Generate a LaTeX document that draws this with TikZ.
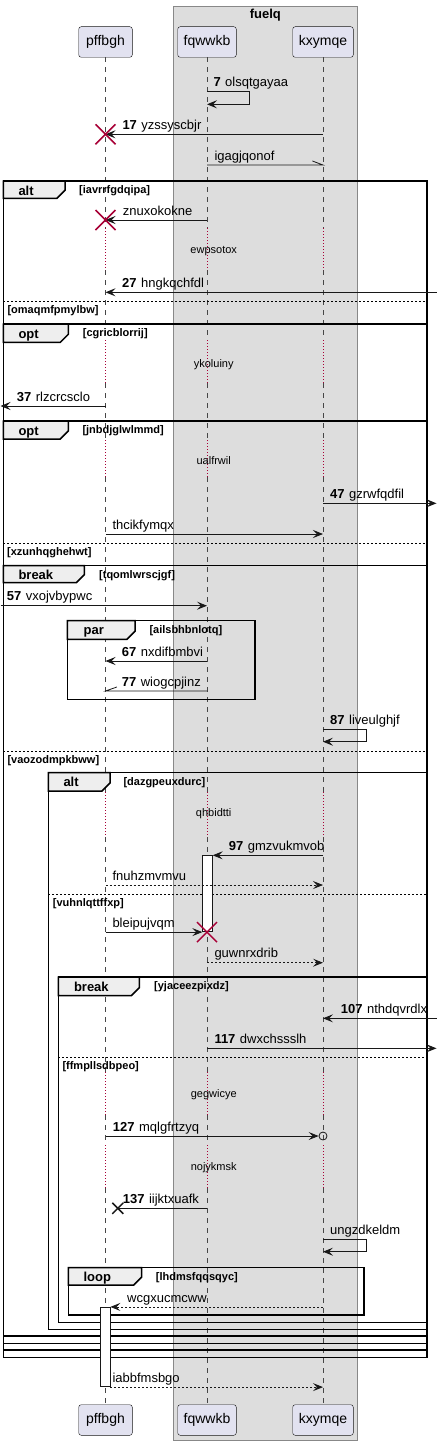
\documentclass[tikz,border=0pt]{standalone}
\usepackage{fontspec}
\setmainfont{Liberation Sans}
\usetikzlibrary{arrows.meta}
\definecolor{lnclr}{HTML}{181818}
\definecolor{partfill}{HTML}{E2E2F0}
\definecolor{boxfill}{HTML}{DDDDDD}
\definecolor{boxline}{HTML}{888888}
\definecolor{tabfill}{HTML}{EEEEEE}
\definecolor{delayred}{HTML}{A80036}
\newcommand\msgno[1]{\textbf{#1}\hspace{4.5pt}}

\begin{document}
\begin{tikzpicture}[x=1pt,y=-1pt,
  part/.style={draw=lnclr,fill=partfill,rounded corners=2.5pt,minimum height=30.6pt,inner sep=0pt,font=\fontsize{14}{16}\selectfont},
  life/.style={draw=lnclr!80,dash pattern=on 5pt off 5pt,line width=0.5pt},
  delay/.style={draw=delayred,dash pattern=on 1pt off 2pt,line width=0.8pt},
  msg/.style={draw=lnclr,line width=0.8pt,-{Stealth[length=10pt,width=8pt,inset=4pt]}},
  reply/.style={msg,dash pattern=on 2pt off 2pt},
  half/.style={draw=lnclr,line width=0.8pt},
  lbl/.style={anchor=base west,inner sep=0pt,font=\fontsize{13}{15}\selectfont},
  dlbl/.style={anchor=base,inner sep=0pt,font=\fontsize{11}{13}\selectfont},
  grd/.style={anchor=base west,inner sep=0pt,font=\bfseries\fontsize{11}{13}\selectfont},
  frm/.style={draw=black,line width=1.5pt},
  tab/.style={frm,fill=tabfill},
  tabtxt/.style={anchor=base west,inner sep=0pt,font=\bfseries\fontsize{13}{15}\selectfont},
  sep/.style={draw=black,dash pattern=on 2pt off 2pt,line width=0.8pt},
  kill/.style={draw=delayred,line width=1.5pt},
  lost/.style={draw=lnclr,line width=1.5pt},
  act/.style={draw=lnclr,fill=white,line width=0.8pt,inner sep=0pt}
]
\useasboundingbox (0,0) rectangle (442,1445);
% box fuelq
\draw[draw=boxline,fill=boxfill] (173.3,6) rectangle (357.3,1440);
\node[anchor=base,inner sep=0pt,font=\bfseries\fontsize{13}{15}\selectfont] (fuelq) at (265.3,19) {fuelq};
% participants
\node[part,minimum width=53.6pt] (pff) at (105.5,42) {pffbgh};
\node[part,minimum width=58.6pt] (fqw) at (207,42) {fqwwkb};
\node[part,minimum width=60.6pt] (kxy) at (323,42) {kxymqe};
\node[part,minimum width=53.6pt] (pffb) at (105.5,1420) {pffbgh};
\node[part,minimum width=58.6pt] (fqwb) at (207,1420) {fqwwkb};
\node[part,minimum width=60.6pt] (kxyb) at (323,1420) {kxymqe};
\coordinate (lft) at (0.5,0);
\coordinate (rgt) at (436.5,0);
% lifelines, dotted where delayed
\foreach \p in {pff,fqw,kxy}{
  \foreach \a/\b in {57.3/228,270/340,383/440,477/792,837/1072,1115/1145,1188/1404.3}
    \draw[life] (\p |- 0,\a) -- (\p |- 0,\b);
  \foreach \a/\b in {228/270,340/383,440/477,792/837,1072/1115,1145/1188}
    \draw[delay] (\p |- 0,\a) -- (\p |- 0,\b);
}
% alt iavrrfgdqipa
\draw[frm] (3.3,181) rectangle (427,1357.3);
\draw[tab] (3.3,181) -- (65,181) -- (65,190.3) -- (57,198.3) -- (3.3,198.3) -- cycle;
\node[tabtxt] (alt1) at (18.3,195) {alt};
\node[grd] (alt1g) at (79,193.5) {[iavrrfgdqipa]};
\draw[sep] (3.3,301) -- (427,301);
\node[grd] (alt1e) at (7.3,313.5) {[omaqmfpmylbw]};
% opt cgricblorrij
\draw[frm] (3.3,324) rectangle (427,1350);
\draw[tab] (3.3,324) -- (68.3,324) -- (68.3,334.3) -- (60.3,342.3) -- (3.3,342.3) -- cycle;
\node[tabtxt] (opt1) at (18.3,338) {opt};
\node[grd] (opt1g) at (82.7,336.5) {[cgricblorrij]};
% opt jnbdjglwlmmd
\draw[frm] (3.3,421) rectangle (427,1343.3);
\draw[tab] (3.3,421) -- (68.3,421) -- (68.3,431) -- (60.3,439) -- (3.3,439) -- cycle;
\node[tabtxt] (opt2) at (18.3,435) {opt};
\node[grd] (opt2g) at (82.3,433.5) {[jnbdjglwlmmd]};
\draw[sep] (3.3,543.3) -- (427,543.3);
\node[grd] (opt2e) at (7,555.8) {[xzunhqghehwt]};
% break tqomlwrscjgf
\draw[frm] (3.3,565.7) rectangle (427,1336);
\draw[tab] (3.3,565.7) -- (84.3,565.7) -- (84.3,574.7) -- (76.3,582.7) -- (3.3,582.7) -- cycle;
\node[tabtxt] (brk1) at (18.3,579.7) {break};
\node[grd] (brk1g) at (99,578.2) {[tqomlwrscjgf]};
\draw[sep] (3.3,751) -- (427,751);
\node[grd] (brk1e) at (7.3,763.5) {[vaozodmpkbww]};
% par ailsbhbnlotq
\draw[frm] (67.3,620.7) rectangle (255,699.3);
\draw[tab] (67.3,620.7) -- (135,620.7) -- (135,631.3) -- (127,639.3) -- (67.3,639.3) -- cycle;
\node[tabtxt] (par1) at (83.5,634.7) {par};
\node[grd] (par1g) at (149.3,633.2) {[ailsbhbnlotq]};
% alt dazgpeuxdurc
\draw[frm] (48.3,772.7) rectangle (427,1329.3);
\draw[tab] (48.3,772.7) -- (110,772.7) -- (110,783) -- (102,791) -- (48.3,791) -- cycle;
\node[tabtxt] (alt2) at (63.3,786.7) {alt};
\node[grd] (alt2g) at (123.3,785.2) {[dazgpeuxdurc]};
\draw[sep] (48.3,894) -- (427,894);
\node[grd] (alt2e) at (52.7,906.5) {[vuhnlqttffxp]};
% break yjaceezpixdz
\draw[frm] (58.3,977) rectangle (427,1322.3);
\draw[tab] (58.3,977) -- (139.3,977) -- (139.3,987.7) -- (131.3,995.7) -- (58.3,995.7) -- cycle;
\node[tabtxt] (brk2) at (73.8,991) {break};
\node[grd] (brk2g) at (154,989.5) {[yjaceezpixdz]};
\draw[sep] (58.3,1057.3) -- (427,1057.3);
\node[grd] (brk2e) at (62.3,1069.8) {[ffmpllsdbpeo]};
% loop lhdmsfqqsqyc
\draw[frm] (68.3,1267.7) rectangle (364,1315);
\draw[tab] (68.3,1267.7) -- (141.7,1267.7) -- (141.7,1277) -- (133.7,1285) -- (68.3,1285) -- cycle;
\node[tabtxt] (loop1) at (83.3,1281.7) {loop};
\node[grd] (loop1g) at (155.7,1280.2) {[lhdmsfqqsqyc]};
% activations
\node[act,minimum width=9.6pt,minimum height=76pt] (fqwa) at (207.5,893.7) {};
\node[act,minimum width=9.3pt,minimum height=79.4pt] (pffa) at (105.35,1347) {};
% messages
\draw[msg] (fqw |- 0,91) -- ++(42.6,0) -- ++(0,13.3) -- (fqw |- 0,104.3);
\node[lbl] (t7) at (213.3,86) {\msgno{7}olsqtgayaa};
\draw[msg] (kxy |- 0,134.3) -- (pff |- 0,134.3);
\draw[kill] (pff |- 0,134.3) ++(-10,-10) -- ++(20,20) ++(0,-20) -- ++(-20,20);
\node[lbl] (t17) at (122.3,129.3) {\msgno{17}yzssyscbjr};
\draw[half] (fqw |- 0,165) -- (kxy |- 0,165) -- ++(-10.6,-4);
\node[lbl] (tiga) at (214.3,160) {igagjqonof};
\draw[msg] (fqw |- 0,220) -- (pff |- 0,220);
\draw[kill] (pff |- 0,220) ++(-10,-10) -- ++(20,20) ++(0,-20) -- ++(-20,20);
\node[lbl] (tznu) at (122.7,215) {znuxokokne};
\node[dlbl] (d1) at (213.7,253.5) {ewpsotox};
\draw[msg] (rgt |- 0,292.3) -- (pff |- 0,292.3);
\node[lbl] (t27) at (122,287.3) {\msgno{27}hngkqchfdl};
\node[dlbl] (d2) at (213.7,367) {ykoluiny};
\draw[msg] (pff |- 0,406) -- (lft |- 0,406);
\node[lbl] (t37) at (16.7,401) {\msgno{37}rlzcrcsclo};
\node[dlbl] (d3) at (213.7,464.3) {ualfrwil};
\draw[msg] (kxy |- 0,503.3) -- (rgt |- 0,503.3);
\node[lbl] (t47) at (330,498.3) {\msgno{47}gzrwfqdfil};
\draw[msg] (pff |- 0,534) -- (kxy |- 0,534);
\node[lbl] (tthc) at (112.3,529) {thcikfymqx};
\draw[msg] (lft |- 0,605.7) -- (fqw |- 0,605.7);
\node[lbl] (t57) at (6.7,600.7) {\msgno{57}vxojvbypwc};
\draw[msg] (fqw |- 0,661) -- (pff |- 0,661);
\node[lbl] (t67) at (121.7,656) {\msgno{67}nxdifbmbvi};
\draw[half] (fqw |- 0,691) -- (pff |- 0,691) -- ++(11.4,-4);
\node[lbl] (t77) at (121.7,686) {\msgno{77}wiogcpjinz};
\draw[msg] (kxy |- 0,729.3) -- ++(43.4,0) -- ++(0,12.4) -- (kxy |- 0,741.7);
\node[lbl] (t87) at (330,724.3) {\msgno{87}liveulghjf};
\node[dlbl] (d4) at (213.7,816.7) {qhbidtti};
\draw[msg] (kxy |- fqwa.north) -- (fqwa.north east);
\node[lbl] (t97) at (228.7,850.7) {\msgno{97}gmzvukmvob};
\draw[reply] (pff |- 0,885) -- (kxy |- 0,885);
\node[lbl] (tfnu) at (112.3,880) {fnuhzmvmvu};
\draw[msg] (pff |- fqwa.south) -- (fqwa.south west);
\draw[kill] (fqw |- fqwa.south) ++(-10,-10) -- ++(20,20) ++(0,-20) -- ++(-20,20);
\node[lbl] (tble) at (112.3,927.3) {bleipujvqm};
\draw[reply] (fqw |- 0,962.7) -- (kxy |- 0,962.7);
\node[lbl] (tguw) at (214.3,957.7) {guwnrxdrib};
\draw[msg] (rgt |- 0,1018.3) -- (kxy |- 0,1018.3);
\node[lbl] (t107) at (340.7,1013.3) {\msgno{107}nthdqvrdlx};
\draw[msg] (fqw |- 0,1048.3) -- (rgt |- 0,1048.3);
\node[lbl] (t117) at (214.3,1043.3) {\msgno{117}dwxchssslh};
\node[dlbl] (d5) at (213.7,1097.3) {gegwicye};
\node[circle,draw=lnclr,line width=0.8pt,inner sep=0pt,minimum size=8pt] (o127) at (kxy |- 0,1136) {};
\draw[msg] (pff |- 0,1136) -- (o127.west);
\node[lbl] (t127) at (112.7,1131) {\msgno{127}mqlgfrtzyq};
\node[dlbl] (d6) at (213.7,1170) {nojykmsk};
\coordinate (x137) at (117.8,1208.3);
\draw[half] (fqw |- x137) -- (x137);
\draw[lost] (x137) ++(-5.5,-5.5) -- ++(11,11) ++(0,-11) -- ++(-11,11);
\node[lbl] (t137) at (122.7,1203.3) {\msgno{137}iijktxuafk};
\draw[msg] (kxy |- 0,1239.3) -- ++(43.4,0) -- ++(0,12.4) -- (kxy |- 0,1251.7);
\node[lbl] (tung) at (330,1234.3) {ungzdkeldm};
\draw[reply] (kxy |- pffa.north) -- (pffa.north east);
\node[lbl] (twcg) at (127,1302.3) {wcgxucmcww};
\draw[reply] (pffa.south east) -- (kxy |- pffa.south);
\node[lbl] (tiab) at (112.3,1382.3) {iabbfmsbgo};
\end{tikzpicture}
\end{document}
